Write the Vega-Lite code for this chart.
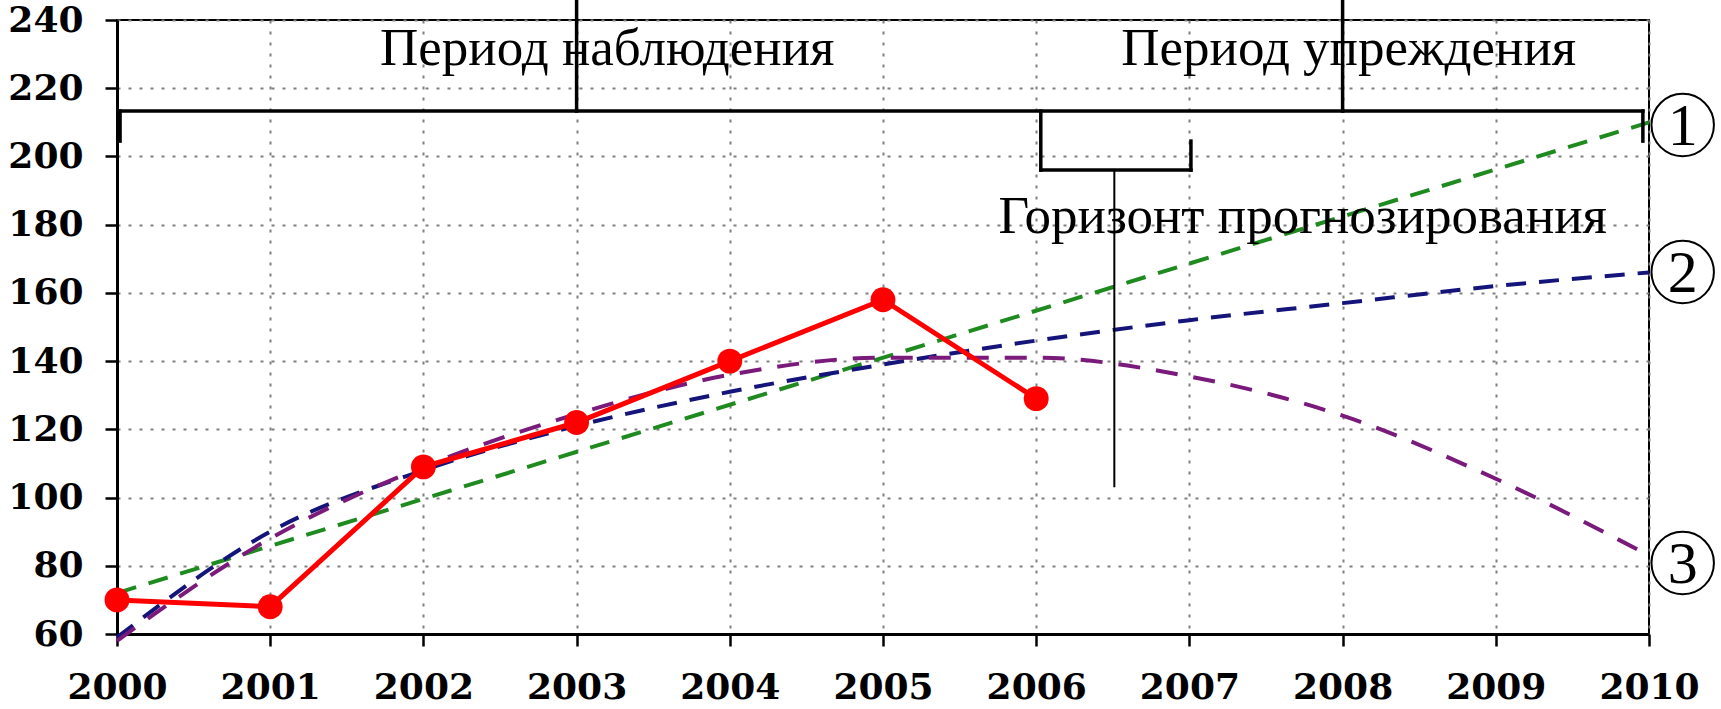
{
  "$schema": "https://vega.github.io/schema/vega-lite/v6.json",
  "width": 1532,
  "height": 614,
  "autosize": {"type": "none"},
  "padding": {"left": 117, "top": 20, "right": 72, "bottom": 75},
  "background": "white",
  "config": {
    "view": {"stroke": "black", "strokeWidth": 2},
    "axis": {
      "labelFont": "DejaVu Serif",
      "labelFontWeight": "bold",
      "labelFontSize": 36,
      "labelColor": "black",
      "labelFlush": false,
      "labelOverlap": false,
      "labelBound": false,
      "tickColor": "black",
      "tickWidth": 2.5,
      "tickSize": 12,
      "domainColor": "black",
      "domainWidth": 3,
      "grid": true,
      "gridColor": "#808080",
      "gridDash": [3, 8],
      "gridWidth": 2,
      "title": null
    }
  },
  "datasets": {
    "obs": [
      {"year": 2000, "value": 70},
      {"year": 2001, "value": 68},
      {"year": 2002, "value": 109},
      {"year": 2003, "value": 122},
      {"year": 2004, "value": 140},
      {"year": 2005, "value": 158},
      {"year": 2006, "value": 129}
    ],
    "trends": [
      {"model": "1", "year": 2000, "value": 72},
      {"model": "1", "year": 2010, "value": 210},
      {"model": "2", "year": 2000, "value": 59},
      {"model": "2", "year": 2001, "value": 90},
      {"model": "2", "year": 2002, "value": 108},
      {"model": "2", "year": 2003, "value": 121},
      {"model": "2", "year": 2004, "value": 131},
      {"model": "2", "year": 2005, "value": 139},
      {"model": "2", "year": 2006, "value": 146},
      {"model": "2", "year": 2007, "value": 152},
      {"model": "2", "year": 2008, "value": 157},
      {"model": "2", "year": 2009, "value": 162},
      {"model": "2", "year": 2010, "value": 166},
      {"model": "3", "year": 2000, "value": 58},
      {"model": "3", "year": 2001, "value": 88},
      {"model": "3", "year": 2002, "value": 109},
      {"model": "3", "year": 2003, "value": 124.5},
      {"model": "3", "year": 2004, "value": 136},
      {"model": "3", "year": 2005, "value": 141},
      {"model": "3", "year": 2006, "value": 141},
      {"model": "3", "year": 2007, "value": 135.5},
      {"model": "3", "year": 2008, "value": 124},
      {"model": "3", "year": 2009, "value": 105.5},
      {"model": "3", "year": 2010, "value": 83}
    ],
    "brackets": [
      {"x": 2000.02, "x2": 2009.96, "y": 213.3, "y2": 213.3},
      {"x": 2000.02, "x2": 2000.02, "y": 213.3, "y2": 204.5},
      {"x": 2009.96, "x2": 2009.96, "y": 213.3, "y2": 204.5},
      {"x": 2003, "x2": 2003, "y": 213.3, "y2": 246},
      {"x": 2008, "x2": 2008, "y": 213.3, "y2": 246},
      {"x": 2006.03, "x2": 2006.03, "y": 213.3, "y2": 196},
      {"x": 2007.01, "x2": 2007.01, "y": 204.5, "y2": 196},
      {"x": 2006.03, "x2": 2007.01, "y": 196, "y2": 196}
    ],
    "pointer": [
      {"x": 2006.51, "x2": 2006.51, "y": 196, "y2": 103}
    ],
    "labels": [
      {"x": 2003.2, "y": 226.8, "text": "Период наблюдения"},
      {"x": 2008.04, "y": 226.8, "text": "Период упреждения"},
      {"x": 2007.74, "y": 177.5, "text": "Горизонт прогнозирования"}
    ],
    "markers": [
      {"x": 2010.22, "y": 209.2, "n": "1"},
      {"x": 2010.22, "y": 166.1, "n": "2"},
      {"x": 2010.22, "y": 80.8, "n": "3"}
    ]
  },
  "layer": [
    {
      "data": {"name": "trends"},
      "mark": {"type": "line", "strokeWidth": 4, "interpolate": "monotone"},
      "encoding": {
        "x": {"field": "year", "type": "quantitative",
              "scale": {"domain": [2000, 2010], "nice": false, "zero": false},
              "axis": {"values": [2000, 2001, 2002, 2003, 2004, 2005, 2006, 2007, 2008, 2009, 2010], "format": "d", "labelPadding": 24}},
        "y": {"field": "value", "type": "quantitative",
              "scale": {"domain": [60, 240], "nice": false, "zero": false},
              "axis": {"values": [60, 80, 100, 120, 140, 160, 180, 200, 220, 240], "labelPadding": 22,
                       "encode": {"labels": {"update": {"dy": {"value": 4}}}}}},
        "color": {"field": "model", "type": "nominal",
                  "scale": {"domain": ["1", "2", "3"], "range": ["#1f8a1f", "#14147a", "#7a1a7a"]},
                  "legend": null},
        "strokeDash": {"field": "model", "type": "nominal",
                       "scale": {"domain": ["1", "2", "3"], "range": [[20, 13], [20, 13], [22, 16]]},
                       "legend": null}
      }
    },
    {
      "data": {"name": "obs"},
      "mark": {"type": "line", "color": "#ff0000", "strokeWidth": 5, "point": {"filled": true, "size": 620, "color": "#ff0000"}},
      "encoding": {
        "x": {"field": "year", "type": "quantitative"},
        "y": {"field": "value", "type": "quantitative"}
      }
    },
    {
      "data": {"name": "brackets"},
      "mark": {"type": "rule", "color": "black", "strokeWidth": 3.5, "strokeCap": "square"},
      "encoding": {
        "x": {"field": "x", "type": "quantitative"},
        "x2": {"field": "x2"},
        "y": {"field": "y", "type": "quantitative"},
        "y2": {"field": "y2"}
      }
    },
    {
      "data": {"name": "pointer"},
      "mark": {"type": "rule", "color": "black", "strokeWidth": 2},
      "encoding": {
        "x": {"field": "x", "type": "quantitative"},
        "x2": {"field": "x2"},
        "y": {"field": "y", "type": "quantitative"},
        "y2": {"field": "y2"}
      }
    },
    {
      "data": {"name": "labels"},
      "mark": {"type": "text", "font": "Liberation Serif", "fontSize": 53, "color": "black", "align": "center", "baseline": "alphabetic"},
      "encoding": {
        "x": {"field": "x", "type": "quantitative"},
        "y": {"field": "y", "type": "quantitative"},
        "text": {"field": "text"}
      }
    },
    {
      "data": {"name": "markers"},
      "mark": {"type": "point", "shape": "circle", "size": 3900, "filled": false, "stroke": "black", "strokeWidth": 2, "opacity": 1},
      "encoding": {
        "x": {"field": "x", "type": "quantitative"},
        "y": {"field": "y", "type": "quantitative"}
      }
    },
    {
      "data": {"name": "markers"},
      "mark": {"type": "text", "font": "Liberation Serif", "fontSize": 60, "color": "black", "align": "center", "baseline": "middle", "dy": 2},
      "encoding": {
        "x": {"field": "x", "type": "quantitative"},
        "y": {"field": "y", "type": "quantitative"},
        "text": {"field": "n"}
      }
    }
  ]
}
